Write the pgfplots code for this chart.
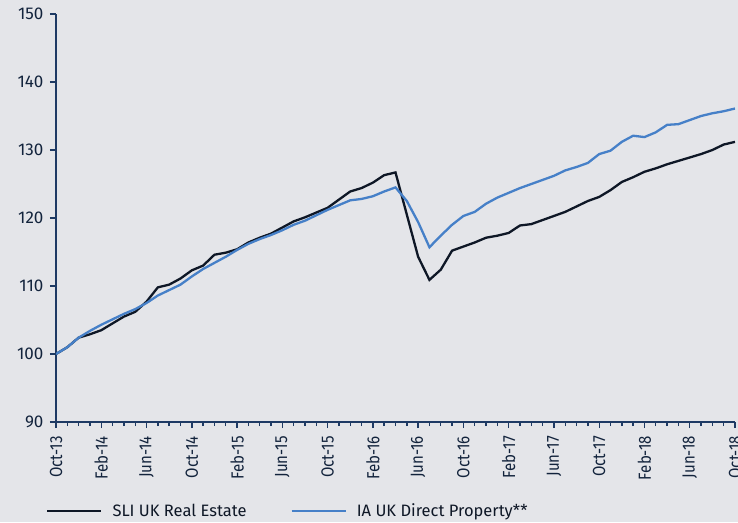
\documentclass[border=0pt]{standalone}
\usepackage{fontspec}
\setmainfont{Fira Sans}
\usepackage{pgfplots}
\pgfplotsset{compat=1.18}
\usepackage{graphicx}
\definecolor{bg}{HTML}{E4E5E9}
\definecolor{axcol}{HTML}{1E3A64}
\definecolor{sli}{HTML}{0E1726}
\definecolor{ia}{HTML}{4680C8}
\newcommand{\cl}[1]{\scalebox{0.86}[1]{#1}}
\begin{document}
\begin{tikzpicture}
\path[use as bounding box, fill=bg] (-56pt,-100pt) rectangle (682pt,422pt);
\begin{axis}[
  scale only axis, width=679pt, height=408pt,
  at={(0pt,0pt)}, anchor=origin,
  xmin=0, xmax=60, ymin=90, ymax=150,
  axis lines=left, axis line style={-, color=axcol, line width=1.4pt},
  tick align=outside,
  tick style={color=axcol, line width=1.4pt},
  major tick length=6pt, minor tick length=4pt,
  ytick={90,100,...,150},
  xtick={0,4,...,60},
  minor xtick={0,1,...,60},
  xticklabels={\cl{Oct-13},\cl{Feb-14},\cl{Jun-14},\cl{Oct-14},\cl{Feb-15},\cl{Jun-15},\cl{Oct-15},\cl{Feb-16},\cl{Jun-16},\cl{Oct-16},\cl{Feb-17},\cl{Jun-17},\cl{Oct-17},\cl{Feb-18},\cl{Jun-18},\cl{Oct-18}},
  xticklabel style={rotate=90, anchor=east, font=\fontsize{17.5}{17.5}\selectfont, text=axcol!60!black, inner xsep=8pt},
  yticklabel style={font=\fontsize{17}{17}\selectfont, text=axcol!60!black, xshift=-3pt},
  /pgf/number format/assume math mode=true,
  legend columns=2,
  legend style={at={(axis description cs:-0.0147,-0.218)}, anchor=west, draw=none, fill=none,
    font=\fontsize{16.5}{16.5}\selectfont, text=sli, inner sep=0pt,
    /tikz/every even column/.append style={column sep=42pt}},
  legend image code/.code={\draw (0pt,0pt) -- (54pt,0pt); \path (62pt,0pt);},
]
\addplot[sli, line width=2.3pt] coordinates {
(0,100.0)(1,101.0)(2,102.4)(3,102.9)(4,103.5)(5,104.5)(6,105.5)(7,106.2)(8,107.7)(9,109.8)
(10,110.2)(11,111.1)(12,112.3)(13,113.0)(14,114.6)(15,114.9)(16,115.4)(17,116.4)(18,117.1)(19,117.7)
(20,118.6)(21,119.5)(22,120.1)(23,120.8)(24,121.5)(25,122.7)(26,123.9)(27,124.4)(28,125.2)(29,126.3)
(30,126.7)(31,120.5)(32,114.3)(33,110.9)(34,112.4)(35,115.2)(36,115.8)(37,116.4)(38,117.1)(39,117.4)
(40,117.8)(41,118.9)(42,119.1)(43,119.7)(44,120.3)(45,120.9)(46,121.7)(47,122.5)(48,123.1)(49,124.1)
(50,125.3)(51,126.0)(52,126.8)(53,127.3)(54,127.9)(55,128.4)(56,128.9)(57,129.4)(58,130.0)(59,130.8)
(60,131.2)};
\addlegendentry{SLI UK Real Estate}
\addplot[ia, line width=2.3pt] coordinates {
(0,100.0)(1,101.0)(2,102.4)(3,103.4)(4,104.3)(5,105.1)(6,105.9)(7,106.6)(8,107.5)(9,108.6)
(10,109.4)(11,110.2)(12,111.4)(13,112.5)(14,113.4)(15,114.3)(16,115.3)(17,116.2)(18,116.9)(19,117.5)
(20,118.2)(21,119.0)(22,119.6)(23,120.4)(24,121.2)(25,121.9)(26,122.6)(27,122.8)(28,123.2)(29,123.9)
(30,124.5)(31,122.5)(32,119.4)(33,115.7)(34,117.4)(35,119.0)(36,120.3)(37,120.9)(38,122.1)(39,123.0)
(40,123.7)(41,124.4)(42,125.0)(43,125.6)(44,126.2)(45,127.0)(46,127.5)(47,128.1)(48,129.4)(49,129.9)
(50,131.2)(51,132.1)(52,131.9)(53,132.6)(54,133.7)(55,133.8)(56,134.4)(57,135.0)(58,135.4)(59,135.7)
(60,136.1)};
\addlegendentry{IA UK Direct Property**}
\end{axis}
\end{tikzpicture}
\end{document}
